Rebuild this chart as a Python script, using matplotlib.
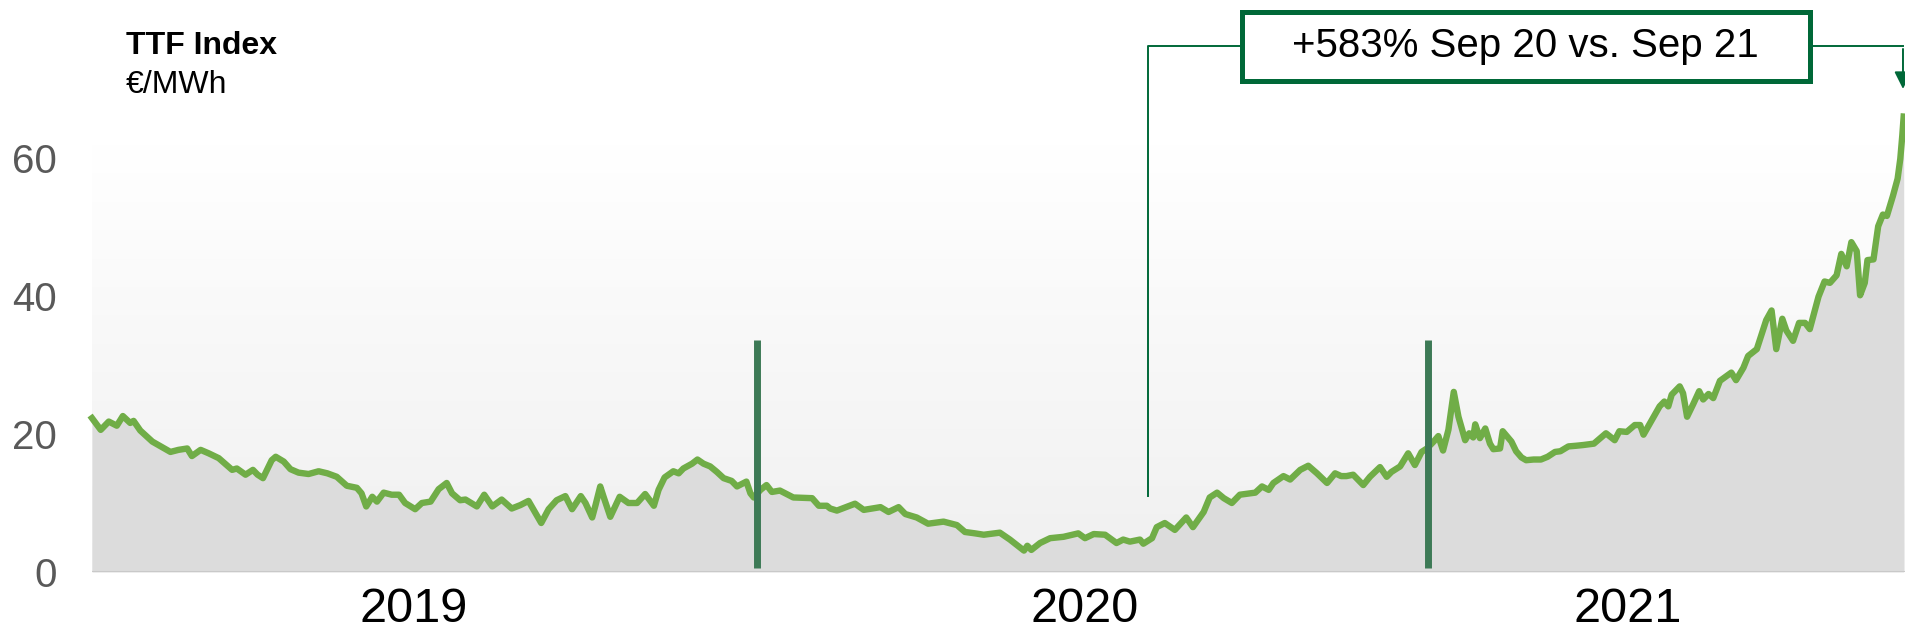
#!/usr/bin/env python3
"""TTF gas index 2019-2021 with the +583% call-out."""
import matplotlib

matplotlib.use("Agg")
import matplotlib.pyplot as plt
import numpy as np
from matplotlib.colors import LinearSegmentedColormap
from matplotlib.patches import Rectangle

plt.rcParams["font.family"] = ["Liberation Sans", "DejaVu Sans"]

# decimal years and TTF price in EUR/MWh
years = [
    2019.008, 2019.021, 2019.033, 2019.045, 2019.054, 2019.065, 2019.070, 2019.080,
    2019.098, 2019.107, 2019.125, 2019.137, 2019.150, 2019.157, 2019.170, 2019.182,
    2019.197, 2019.217, 2019.224, 2019.237, 2019.248, 2019.255, 2019.263, 2019.276,
    2019.282, 2019.294, 2019.304, 2019.316, 2019.331, 2019.346, 2019.359, 2019.373,
    2019.388, 2019.403, 2019.410, 2019.417, 2019.426, 2019.433, 2019.443, 2019.455,
    2019.466, 2019.475, 2019.490, 2019.500, 2019.513, 2019.525, 2019.537, 2019.545,
    2019.557, 2019.565, 2019.582, 2019.593, 2019.605, 2019.619, 2019.634, 2019.647,
    2019.659, 2019.678, 2019.689, 2019.701, 2019.714, 2019.724, 2019.737, 2019.744,
    2019.754, 2019.759, 2019.766, 2019.771, 2019.781, 2019.795, 2019.808, 2019.821,
    2019.833, 2019.846, 2019.853, 2019.862, 2019.875, 2019.883, 2019.890, 2019.903,
    2019.911, 2019.920, 2019.930, 2019.940, 2019.950, 2019.962, 2019.970, 2019.984,
    2019.990, 2019.995, 2020.005, 2020.014, 2020.022, 2020.034, 2020.054, 2020.082,
    2020.092, 2020.104, 2020.109, 2020.119, 2020.146, 2020.159, 2020.184, 2020.196,
    2020.211, 2020.221, 2020.238, 2020.255, 2020.278, 2020.298, 2020.310, 2020.325,
    2020.338, 2020.362, 2020.377, 2020.398, 2020.403, 2020.409, 2020.422, 2020.437,
    2020.457, 2020.479, 2020.489, 2020.502, 2020.519, 2020.536, 2020.546, 2020.556,
    2020.571, 2020.576, 2020.589, 2020.596, 2020.608, 2020.623, 2020.640, 2020.650,
    2020.666, 2020.675, 2020.686, 2020.696, 2020.708, 2020.720, 2020.743, 2020.753,
    2020.763, 2020.770, 2020.785, 2020.795, 2020.810, 2020.822, 2020.835, 2020.850,
    2020.862, 2020.871, 2020.879, 2020.889, 2020.904, 2020.914, 2020.929, 2020.939,
    2020.946, 2020.959, 2020.971, 2020.981, 2020.991, 2020.999, 2021.009, 2021.016,
    2021.023, 2021.031, 2021.039, 2021.046, 2021.056, 2021.062, 2021.068, 2021.071,
    2021.078, 2021.086, 2021.093, 2021.098, 2021.108, 2021.112, 2021.125, 2021.132,
    2021.140, 2021.147, 2021.158, 2021.169, 2021.179, 2021.190, 2021.198, 2021.210,
    2021.222, 2021.232, 2021.248, 2021.266, 2021.279, 2021.286, 2021.297, 2021.309,
    2021.317, 2021.322, 2021.332, 2021.346, 2021.353, 2021.359, 2021.364, 2021.376,
    2021.381, 2021.387, 2021.396, 2021.405, 2021.411, 2021.419, 2021.426, 2021.436,
    2021.446, 2021.453, 2021.460, 2021.471, 2021.478, 2021.491, 2021.505, 2021.513,
    2021.520, 2021.529, 2021.535, 2021.545, 2021.554, 2021.563, 2021.570, 2021.583,
    2021.592, 2021.600, 2021.610, 2021.617, 2021.625, 2021.632, 2021.640, 2021.645,
    2021.652, 2021.656, 2021.665, 2021.672, 2021.679, 2021.685, 2021.694, 2021.701,
    2021.705, 2021.708, 2021.710,
]
ttf = [
    22.3, 20.6, 21.8, 21.2, 22.6, 21.6, 21.9, 20.5,
    18.9, 18.4, 17.4, 17.7, 17.9, 16.8, 17.7, 17.2,
    16.5, 14.8, 15.0, 14.1, 14.8, 14.1, 13.6, 16.2,
    16.7, 16.0, 14.9, 14.4, 14.2, 14.6, 14.3, 13.8,
    12.5, 12.2, 11.4, 9.5, 10.9, 10.2, 11.5, 11.2,
    11.2, 10.0, 9.1, 10.0, 10.2, 12.0, 12.9, 11.4,
    10.4, 10.5, 9.5, 11.2, 9.5, 10.5, 9.2, 9.7,
    10.3, 7.1, 9.1, 10.4, 11.0, 9.1, 11.0, 10.0,
    7.9, 9.7, 12.4, 10.9, 8.0, 10.9, 10.0, 10.0,
    11.3, 9.6, 11.9, 13.7, 14.6, 14.3, 15.0, 15.7,
    16.3, 15.7, 15.3, 14.5, 13.6, 13.2, 12.4, 13.1,
    11.4, 10.8, 11.9, 12.6, 11.6, 11.8, 10.8, 10.7,
    9.6, 9.6, 9.2, 8.9, 9.9, 9.0, 9.4, 8.7,
    9.4, 8.4, 7.9, 7.0, 7.3, 6.8, 5.8, 5.6,
    5.4, 5.7, 4.7, 3.1, 3.8, 3.2, 4.2, 4.9,
    5.1, 5.6, 4.9, 5.5, 5.4, 4.2, 4.7, 4.4,
    4.7, 4.1, 4.9, 6.5, 7.1, 6.1, 7.9, 6.5,
    8.7, 10.8, 11.5, 10.7, 10.0, 11.2, 11.5, 12.4,
    11.9, 12.9, 13.9, 13.4, 14.8, 15.4, 14.3, 12.9,
    14.3, 13.9, 13.9, 14.1, 12.6, 13.8, 15.2, 13.8,
    14.5, 15.3, 17.2, 15.5, 17.4, 17.9, 18.9, 19.7,
    17.6, 20.6, 26.1, 22.5, 19.1, 20.1, 19.5, 21.4,
    19.4, 20.8, 18.6, 17.8, 17.9, 20.4, 18.9, 17.5,
    16.6, 16.2, 16.3, 16.3, 16.7, 17.4, 17.5, 18.2,
    18.3, 18.4, 18.6, 20.1, 19.1, 20.4, 20.3, 21.3,
    21.3, 19.9, 21.6, 24.0, 24.7, 24.0, 25.7, 26.9,
    25.9, 22.5, 24.3, 26.2, 25.0, 25.8, 25.2, 27.7,
    28.4, 28.9, 27.8, 29.6, 31.3, 32.3, 36.5, 37.9,
    32.3, 36.7, 35.0, 33.5, 36.1, 36.1, 35.2, 39.9,
    42.1, 41.9, 43.0, 46.1, 44.3, 47.8, 46.5, 40.1,
    41.9, 45.2, 45.3, 50.1, 51.8, 51.6, 54.5, 57.0,
    59.9, 63.3, 66.0,
]

yticks = [0, 20, 40, 60]
year_labels = ["2019", "2020", "2021"]
year_label_pos = [2019.487, 2020.489, 2021.299]
year_breaks = [2020.0, 2021.0]

callout_text = "+583% Sep 20 vs. Sep 21"
callout_from = (2020.583, 11.0)
callout_to = (2021.709, 69.6)

LINE = "#70ad47"
FILL = "#dcdcdc"
BREAK = "#3d7a56"
CALLOUT = "#006838"

fig = plt.figure(figsize=(19.05, 6.36), dpi=100)
ax = fig.add_axes([92 / 1905, 64 / 636, 1813 / 1905, 472 / 636])
x0, x1 = 2019.008, 2021.712
ax.set_xlim(x0, x1)
ax.set_ylim(0, 68.4)
ax.set_facecolor("none")
for spine in ax.spines.values():
    spine.set_visible(False)

# soft vertical gradient behind the series
cmap = LinearSegmentedColormap.from_list("bg", ["#f0f0f0", "#ffffff"])
grad = np.linspace(0, 1, 256).reshape(-1, 1)
ax.imshow(grad, cmap=cmap, extent=[x0, x1, 0, 62], origin="lower", aspect="auto", zorder=0)

ax.fill_between(years, 0, ttf, color=FILL, linewidth=0, zorder=1)
ax.axhline(0, color="#c9c9c9", lw=1.5, zorder=2)
ax.plot(years, ttf, color=LINE, lw=4.6, solid_joinstyle="round", zorder=3, clip_on=False)
ax.vlines(year_breaks, 0.6, 33.6, color=BREAK, lw=5.0, zorder=4)

ax.set_yticks(yticks)
ax.set_yticklabels([str(v) for v in yticks], fontsize=29, color="#595959")
ax.set_xticks(year_label_pos)
ax.set_xticklabels(year_labels, fontsize=35, color="black")
ax.tick_params(axis="y", length=0, pad=25)
ax.tick_params(axis="x", length=0, pad=11)

# call-out box with connectors
box_x0, box_x1 = 2020.723, 2021.570
box_y0, box_y1 = 71.2, 81.2
box_mid = (box_y0 + box_y1) / 2
ax.add_patch(Rectangle((box_x0, box_y0), box_x1 - box_x0, box_y1 - box_y0,
                       facecolor="white", edgecolor=CALLOUT, lw=3.6, clip_on=False, zorder=6))
ax.text((box_x0 + box_x1) / 2, box_mid, callout_text, ha="center", va="center",
        fontsize=29, color="black", zorder=7, clip_on=False)
ax.plot([callout_from[0], callout_from[0], box_x0], [callout_from[1], box_mid, box_mid],
        color=CALLOUT, lw=1.4, clip_on=False, zorder=5)
ax.plot([box_x1, callout_to[0]], [box_mid, box_mid], color=CALLOUT, lw=1.4, clip_on=False, zorder=5)
ax.annotate("", xy=callout_to, xytext=(callout_to[0], box_mid),
            arrowprops=dict(arrowstyle="-|>", color=CALLOUT, lw=1.4, mutation_scale=26),
            annotation_clip=False, zorder=5)

fig.text(126 / 1905, 1 - 54 / 636, "TTF Index", fontsize=23, fontweight="bold", va="baseline")
fig.text(126 / 1905, 1 - 93 / 636, "€/MWh", fontsize=23, va="baseline")

fig.savefig("out.png", dpi=100)
plt.close(fig)
